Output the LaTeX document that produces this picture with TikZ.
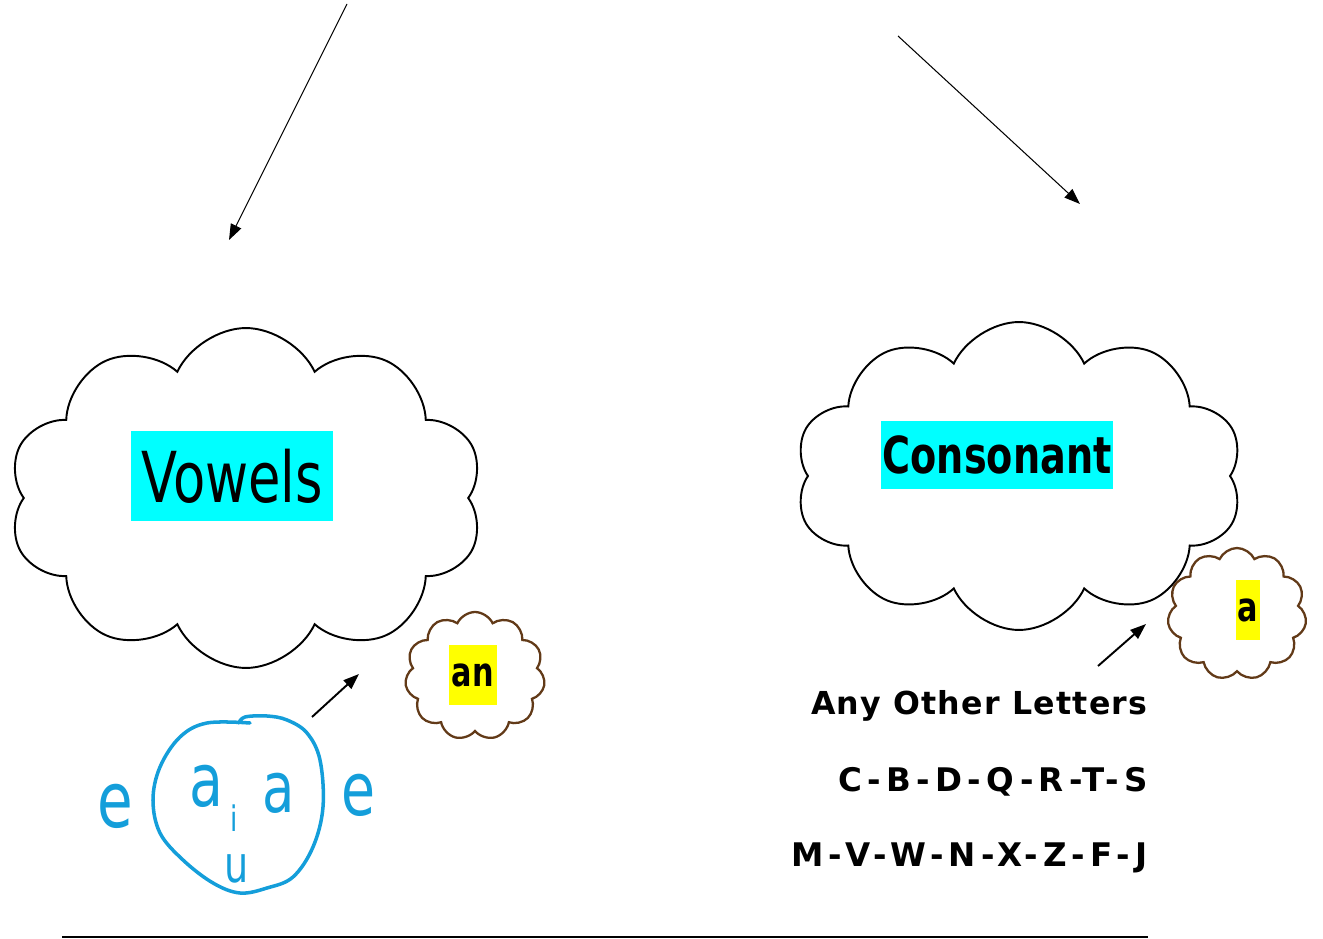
\documentclass[tikz,border=0pt]{standalone}
\usepackage{fontspec}
\setmainfont{DejaVu Sans}
\newfontfamily\narrowfont[FakeStretch=0.75]{DejaVu Sans}
\newfontfamily\otherfont[LetterSpace=4]{DejaVu Sans}
\newfontfamily\rowfont[LetterSpace=16]{DejaVu Sans}
\usepackage{xcolor}
\usepackage{tikz}
\usetikzlibrary{shapes.symbols, arrows.meta, positioning}
\definecolor{hlcyan}{RGB}{0,255,255}
\definecolor{hlyellow}{RGB}{255,255,0}
\definecolor{puffbrown}{RGB}{98,58,24}
\definecolor{inkblue}{RGB}{20,158,218}
\tikzstyle{bigcloud} = [cloud, cloud puffs=10, cloud puff arc=130, aspect=1.4, draw=black, line width=1.1pt]
\tikzstyle{smallcloud} = [cloud, cloud puffs=11, cloud puff arc=130, draw=puffbrown, line width=1.3pt]
\tikzstyle{tag} = [inner sep=0pt, text centered]
\tikzstyle{rows} = [inner sep=0pt, font=\rowfont\fontsize{18.5}{20}\selectfont\bfseries]
\tikzstyle{arrow} = [-{Triangle[length=9pt,width=6.5pt]}]
\tikzstyle{ink} = [inkblue, line width=2pt, line cap=round, line join=round]
\tikzstyle{inkletter} = [inkblue, inner sep=0pt, anchor=base]

\begin{document}
\begin{tikzpicture}[x=0.02cm, y=-0.02cm]
        \useasboundingbox (0,0) rectangle (1323,939);

        % the two clouds
        \node (vcloud) [bigcloud, minimum width=9.5cm, minimum height=6.8cm] at (246,498) {};
        \node (ccloud) [bigcloud, minimum width=8.96cm, minimum height=6.16cm] at (1019,476) {};
        \node (vowels) [tag, fill=hlcyan, minimum width=4.04cm, minimum height=1.8cm,
            font=\narrowfont\fontsize{40}{44}\selectfont] at (232,476) {Vowels};
        \node (conso) [tag, fill=hlcyan, minimum width=4.64cm, minimum height=1.36cm,
            font=\narrowfont\fontsize{29}{32}\selectfont\bfseries] at (997,455) {Consonant};

        % articles
        \node (ancloud) [smallcloud, minimum width=2.8cm, minimum height=2.56cm] at (475,676) {};
        \node (acloud) [smallcloud, minimum width=2.78cm, minimum height=2.64cm] at (1237,614) {};
        \node (an) [tag, fill=hlyellow, minimum width=0.96cm, minimum height=1.2cm,
            font=\narrowfont\fontsize{23}{26}\selectfont\bfseries] at (473,675) {an};
        \node (art) [tag, fill=hlyellow, minimum width=0.48cm, minimum height=1.22cm,
            font=\narrowfont\fontsize{23}{26}\selectfont\bfseries] at (1248,610) {a};

        % arrows from above
        \coordinate (vfrom) at (347,4);
        \coordinate (vto) at (229,240);
        \coordinate (cfrom) at (898,36);
        \coordinate (cto) at (1080,204);
        \draw[arrow, line width=0.6pt] (vfrom) -- (vto);
        \draw[arrow, line width=0.6pt] (cfrom) -- (cto);

        % small arrows to the articles
        \coordinate (anfrom) at (312,717);
        \coordinate (anto) at (359,674);
        \coordinate (afrom) at (1098,666);
        \coordinate (ato) at (1146,624);
        \draw[arrow, line width=1.1pt] (anfrom) -- (anto);
        \draw[arrow, line width=1.1pt] (afrom) -- (ato);

        % consonant list
        \node (other) [rows, font=\otherfont\fontsize{18}{20}\selectfont\bfseries, anchor=base east] at (1148,714) {Any Other Letters};
        \node (row1) [rows, below=1.56cm of other.base east, anchor=base east] {C-B-D-Q-R-T-S};
        \node (row2) [rows, below=1.5cm of row1.base east, anchor=base east] {M-V-W-N-X-Z-F-J};

        % handwritten vowels
        \draw[ink] plot[smooth, tension=0.6] coordinates {(250,723) (207,723) (180,737) (160,767)
            (153,800) (160,833) (183,860) (213,883) (240,893) (267,888) (293,877) (313,847)
            (323,807) (320,760) (307,733) (287,720) (267,716) (245,717) (239,723)};
        \node (e1) [inkletter, font=\narrowfont\fontsize{44}{46}\selectfont] at (115,827) {e};
        \node (a1) [inkletter, font=\narrowfont\fontsize{42}{44}\selectfont] at (206,806) {a};
        \node (i1) [inkletter, font=\narrowfont\fontsize{20}{22}\selectfont] at (234,831) {i};
        \node (a2) [inkletter, font=\narrowfont\fontsize{40}{44}\selectfont] at (279,812) {a};
        \node (e2) [inkletter, font=\narrowfont\fontsize{42}{44}\selectfont] at (359,815) {e};
        \node (u1) [inkletter, font=\narrowfont\fontsize{29}{31}\selectfont] at (237,882) {u};

        \draw[line width=1.1pt] (62,937) -- (1148,937);
    \end{tikzpicture}
\end{document}
